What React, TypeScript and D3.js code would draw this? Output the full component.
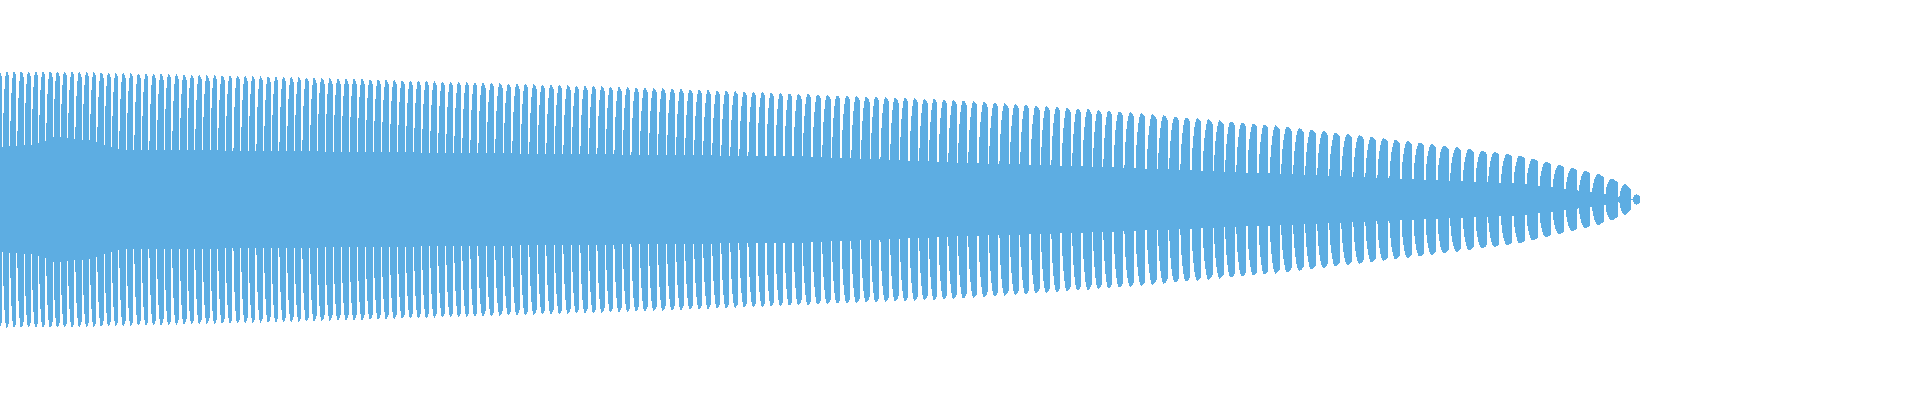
import React, { useMemo } from 'react'
import * as d3 from 'd3'

// envelope of the recording (time in ms)
const timeMarks = [0, 30, 60, 90, 120, 160, 320, 480, 640, 800, 960, 1120, 1280, 1440, 1520, 1600, 1625, 1640]
// cumulative number of beat cycles counted up to each time mark
const cycleMarks = [0.6, 4.75, 8.9, 13.0, 17.1, 22.4, 43.3, 63.2, 82.0, 99.7, 116.2, 131.6, 145.9, 159.2, 165.5, 171.6, 173.4, 174.5]
// outer (peak) amplitude of each beat
const peakMarks = [0.8, 0.8, 0.8, 0.795, 0.79, 0.785, 0.76, 0.73, 0.7, 0.66, 0.62, 0.55, 0.46, 0.34, 0.275, 0.156, 0.1, 0.02]
// amplitude the signal falls back to between beats
const floorMarks = [0.33, 0.34, 0.39, 0.37, 0.31, 0.31, 0.3, 0.29, 0.28, 0.27, 0.23, 0.2, 0.16, 0.12, 0.1, 0.04, 0.01, 0]

const WIDTH = 1920
const HEIGHT = 400
const COLOR = '#5dade2'

// shape of one beat: quick rise, flat top, abrupt release
function beatShape(u: number) {
    if (u > 0.87) return 0
    if (u < 0.5) return Math.pow(Math.sin((Math.PI / 2) * (u / 0.5)), 0.6)
    const k = (u - 0.5) / 0.37
    return 1 - 0.08 * k * k
}

export default function App() {
    const xScale = d3.scaleLinear().domain([0, WIDTH]).range([0, WIDTH])
    const yScale = d3.scaleLinear().domain([-1, 1]).range([359.5, 39.5])

    const path = useMemo(() => {
        const cycles = d3.scaleLinear().domain(timeMarks).range(cycleMarks)
        const peak = d3.scaleLinear().domain(timeMarks).range(peakMarks)
        const floor = d3.scaleLinear().domain(timeMarks).range(floorMarks)
        const end = timeMarks[timeMarks.length - 1]

        const samples: { t: number; amp: number }[] = []
        const lastPx = Math.round(xScale(end))
        for (let px = 0; px < lastPx; px++) {
            const t = xScale.invert(px + 0.5)
            const c = cycles(t)
            const u = c - Math.floor(c)
            const lo = floor(t)
            const hi = peak(t)
            samples.push({ t: xScale.invert(px), amp: lo + (hi - lo) * beatShape(u) })
        }
        samples.push({ t: end, amp: samples[samples.length - 1].amp })

        const area = d3.area<{ t: number; amp: number }>()
            .x(d => xScale(d.t))
            .y0(d => yScale(-d.amp))
            .y1(d => yScale(d.amp))
            .curve(d3.curveStepAfter)
        return area(samples) || ''
    }, [])

    return (
        <svg
            width={WIDTH}
            height={HEIGHT}
            style={{ position: 'absolute', left: 0, top: 0, background: '#fff' }}
        >
            <path d={path} fill={COLOR} shapeRendering="crispEdges" />
        </svg>
    )
}
